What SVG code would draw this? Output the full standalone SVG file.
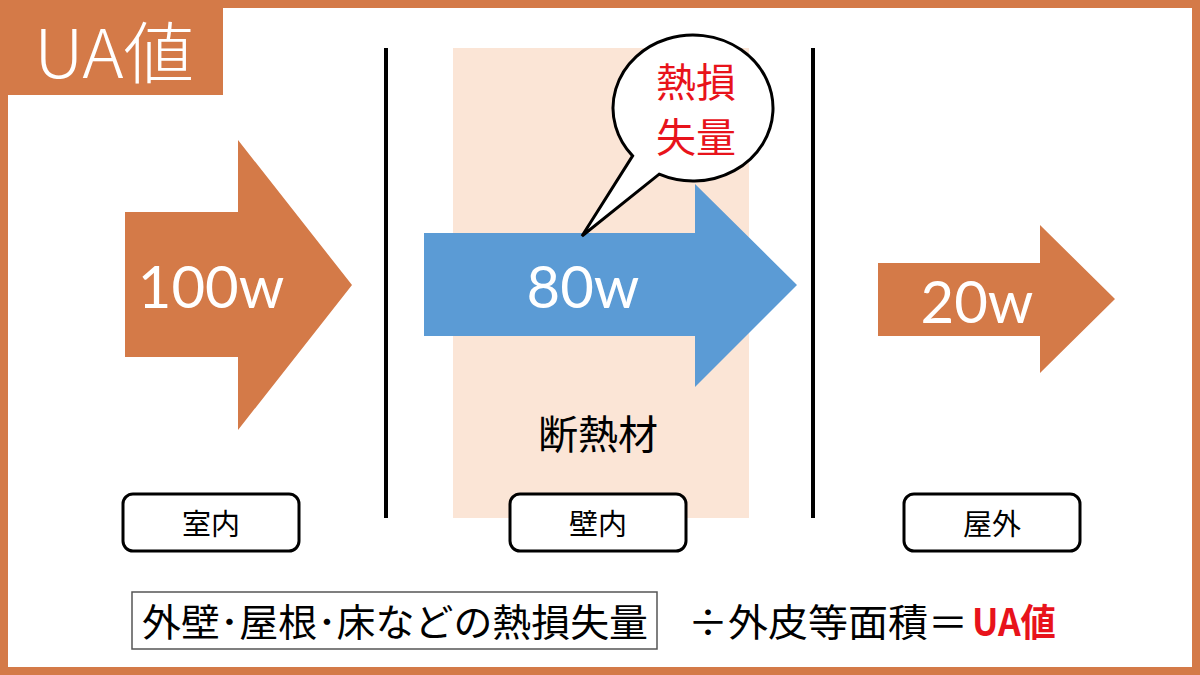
<svg xmlns="http://www.w3.org/2000/svg" width="1200" height="675" viewBox="0 0 1200 675">
<style>
.or{fill:#D47A48}
.wt{fill:#fff;font-family:"Lato","Noto Sans CJK JP",sans-serif}
.jp{font-family:"Noto Sans CJK JP",sans-serif;fill:#000}
.red{fill:#E8131B;font-family:"Noto Sans CJK JP",sans-serif}
.lbl{fill:#fff;stroke:#000;stroke-width:3}
.vl{stroke:#000;stroke-width:4}
</style>
<rect x="0" y="0" width="1200" height="675" fill="#fff"/>
<rect x="4" y="4" width="1192" height="667" fill="none" stroke="#D47A48" stroke-width="8"/>
<g id="title">
<rect class="or" x="0" y="0" width="223" height="95"/>
<text x="34" y="78" font-size="67" fill="#fff" font-weight="300" textLength="160" lengthAdjust="spacingAndGlyphs" style="font-family:'Noto Sans CJK JP',sans-serif">UA値</text>
</g>
<g id="insulation">
<rect x="453" y="48" width="296" height="470" fill="#FBE5D6"/>
<text class="jp" x="598" y="449" font-size="40" text-anchor="middle">断熱材</text>
</g>
<g id="walls">
<line class="vl" x1="386" y1="48" x2="386" y2="518"/>
<line class="vl" x1="813" y1="48" x2="813" y2="518"/>
</g>
<g id="arrow100">
<polygon class="or" points="125,212 238,212 238,140 352,285 238,430 238,357 125,357"/>
<text class="wt" x="211" y="308" font-size="58" text-anchor="middle">100w</text>
</g>
<g id="arrow80">
<polygon fill="#5B9BD5" points="424,233 695,233 695,184 797,285 695,387 695,336 424,336"/>
<text class="wt" x="583" y="308" font-size="58" text-anchor="middle">80w</text>
</g>
<g id="arrow20">
<polygon class="or" points="878,263 1040,263 1040,225 1115,299 1040,373 1040,336 878,336"/>
<text class="wt" x="977" y="323" font-size="58" text-anchor="middle">20w</text>
</g>
<g id="bubble">
<path d="M 659.2 174.2 A 80 73 0 1 0 632.6 155.9 L 582 236 Z" fill="#fff" stroke="#000" stroke-width="3" stroke-linejoin="miter"/>
<text class="red" x="696" y="97" font-size="40" text-anchor="middle">熱損</text>
<text class="red" x="696" y="152" font-size="40" text-anchor="middle">失量</text>
</g>
<g id="label-indoor">
<rect class="lbl" x="123" y="494" width="176" height="57" rx="10"/>
<text class="jp" x="211" y="535" font-size="29" text-anchor="middle">室内</text>
</g>
<g id="label-wall">
<rect class="lbl" x="510" y="494" width="176" height="57" rx="10"/>
<text class="jp" x="598" y="535" font-size="29" text-anchor="middle">壁内</text>
</g>
<g id="label-outdoor">
<rect class="lbl" x="904" y="494" width="176" height="57" rx="10"/>
<text class="jp" x="992" y="535" font-size="29" text-anchor="middle">屋外</text>
</g>
<g id="formula">
<rect x="132" y="592" width="525" height="57" fill="#fff" stroke="#555" stroke-width="1.5"/>
<text class="jp" x="142" y="636" font-size="38" textLength="506" lengthAdjust="spacingAndGlyphs">外壁･屋根･床などの熱損失量</text>
<text class="jp" x="688" y="636" font-size="38" textLength="280" lengthAdjust="spacingAndGlyphs">÷外皮等面積＝</text>
<text x="972" y="636" font-size="38" font-weight="bold" fill="#E8131B" textLength="84" lengthAdjust="spacingAndGlyphs" style="font-family:'Noto Sans CJK JP',sans-serif">UA値</text>
</g>
</svg>
